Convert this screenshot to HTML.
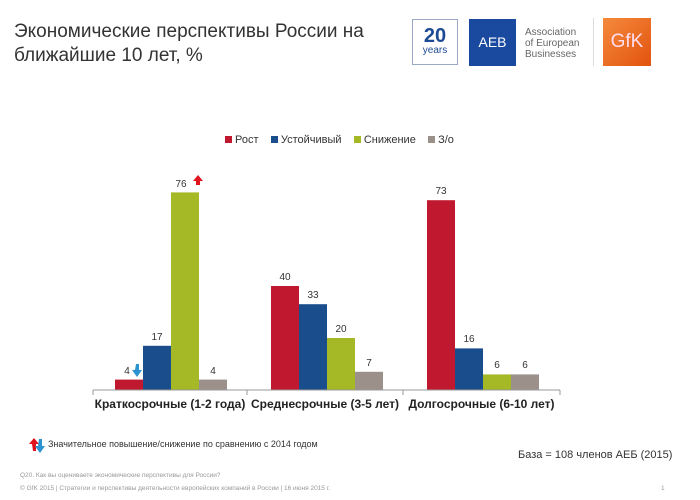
<!DOCTYPE html>
<html><head><meta charset="utf-8"><style>
body{margin:0;width:700px;height:500px;background:#fff;font-family:"Liberation Sans",sans-serif;overflow:hidden;position:relative}
.t{position:absolute;white-space:nowrap}
</style></head><body>
<div class="t" style="left:14px;top:20px;font-size:19px;line-height:24px;color:#333">Экономические перспективы России на<br>ближайшие 10 лет, %</div>
<!-- logos -->
<div class="t" style="left:412px;top:19px;width:46px;height:46px;border:1px solid #9aa9c3;box-sizing:border-box;text-align:center;color:#1d4b93;font-weight:bold;font-size:20px;line-height:20px;padding-top:6px">20<div style="font-size:10px;line-height:10px;font-weight:normal">years</div></div>
<div class="t" style="left:469px;top:19px;width:47px;height:47px;background:#1a4aa0;color:#fff;font-size:14px;text-align:center;line-height:47px">AEB</div>
<div class="t" style="left:525px;top:27px;font-size:10px;line-height:11px;color:#666">Association<br>of European<br>Businesses</div>
<div class="t" style="left:593px;top:18px;width:1px;height:48px;background:#ddd"></div>
<div class="t" style="left:603px;top:18px;width:48px;height:48px;background:linear-gradient(135deg,#f58a3c,#e2530f);color:#fde;font-size:19px;text-align:center;line-height:48px">GfK</div>
<!-- legend -->
<div class="t" style="top:133px;left:225px;font-size:11px;color:#333;line-height:14px">
<span style="display:inline-block;width:7px;height:7px;background:#c0182f"></span> Рост &nbsp;&nbsp;
<span style="display:inline-block;width:7px;height:7px;background:#1a4d8c"></span> Устойчивый &nbsp;&nbsp;
<span style="display:inline-block;width:7px;height:7px;background:#a5b826"></span> Снижение &nbsp;&nbsp;
<span style="display:inline-block;width:7px;height:7px;background:#9b918a"></span> З/о</div>
<svg class="t" style="left:0;top:0" width="700" height="500">
<g font-family="Liberation Sans" font-size="10" fill="#333" text-anchor="middle">
<rect x="115" y="379.6" width="28" height="10.4" fill="#c0182f"/>
<rect x="143" y="345.8" width="28" height="44.2" fill="#1a4d8c"/>
<rect x="171" y="192.4" width="28" height="197.6" fill="#a5b826"/>
<rect x="199" y="379.6" width="28" height="10.4" fill="#9b918a"/>
<text x="127" y="374">4</text><text x="157" y="340">17</text><text x="181" y="187">76</text><text x="213" y="374">4</text>
<rect x="271" y="286" width="28" height="104" fill="#c0182f"/>
<rect x="299" y="304.2" width="28" height="85.8" fill="#1a4d8c"/>
<rect x="327" y="338" width="28" height="52" fill="#a5b826"/>
<rect x="355" y="371.8" width="28" height="18.2" fill="#9b918a"/>
<text x="285" y="280">40</text><text x="313" y="298">33</text><text x="341" y="332">20</text><text x="369" y="366">7</text>
<rect x="427" y="200.2" width="28" height="189.8" fill="#c0182f"/>
<rect x="455" y="348.4" width="28" height="41.6" fill="#1a4d8c"/>
<rect x="483" y="374.4" width="28" height="15.6" fill="#a5b826"/>
<rect x="511" y="374.4" width="28" height="15.6" fill="#9b918a"/>
<text x="441" y="194">73</text><text x="469" y="342">16</text><text x="497" y="368">6</text><text x="525" y="368">6</text>
</g>
<line x1="93" y1="390" x2="560" y2="390" stroke="#999"/>
<line x1="93" y1="390" x2="93" y2="395" stroke="#999"/><line x1="247" y1="390" x2="247" y2="395" stroke="#999"/><line x1="403" y1="390" x2="403" y2="395" stroke="#999"/><line x1="560" y1="390" x2="560" y2="395" stroke="#999"/>
<!-- arrows -->
<path d="M194 180h-3v-4h-3l5-6 5 6h-3v4z" transform="translate(5,5)" fill="#e0141e"/>
<path d="M136 364h3v6h3l-5 7-5-7h3z" fill="#2b93d1"/>
<path d="M33 451h3v-7h3l-5-6-5 6h3z" fill="#e0141e"/>
<path d="M39 439h3v7h3l-5 7-5-7h3z" fill="#2b93d1"/>
</svg>
<div class="t" style="left:93px;top:397px;width:154px;text-align:center;font-size:12px;font-weight:bold;color:#222">Краткосрочные (1-2 года)</div>
<div class="t" style="left:247px;top:397px;width:156px;text-align:center;font-size:12px;font-weight:bold;color:#222">Среднесрочные (3-5 лет)</div>
<div class="t" style="left:403px;top:397px;width:157px;text-align:center;font-size:12px;font-weight:bold;color:#222">Долгосрочные (6-10 лет)</div>
<div class="t" style="left:48px;top:439px;font-size:9px;color:#333">Значительное повышение/снижение по сравнению с 2014 годом</div>
<div class="t" style="left:518px;top:449px;font-size:11px;color:#333">База = 108 членов АЕБ (2015)</div>
<div class="t" style="left:20px;top:472px;font-size:6.5px;color:#999">Q20. Как вы оцениваете экономические перспективы для России?</div>
<div class="t" style="left:20px;top:485px;font-size:6.5px;color:#999">© GfK 2015 | Стратегии и перспективы деятельности европейских компаний в России | 16 июня 2015 г.</div>
<div class="t" style="left:661px;top:485px;font-size:6.5px;color:#999">1</div>
</body></html>
